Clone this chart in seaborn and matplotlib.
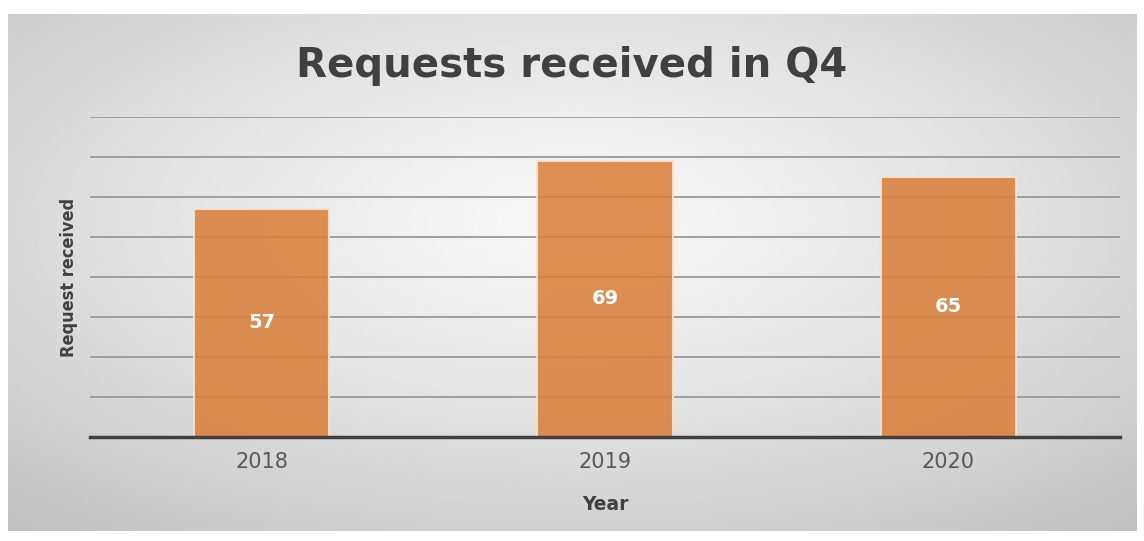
import numpy as np
import pandas as pd
import matplotlib
matplotlib.use("Agg")
import matplotlib.pyplot as plt
import seaborn as sns

years = ["2018", "2019", "2020"]
requests = [57, 69, 65]

df = pd.DataFrame({"Year": years, "Requests": requests})

sns.set_theme(style="white")
plt.rcParams["font.family"] = ["DejaVu Sans"]

W, H = 1144, 541
fig = plt.figure(figsize=(W / 100, H / 100), dpi=100, facecolor="white")

# chart panel with radial grey gradient
bg = fig.add_axes([8 / W, 1 - 531 / H, 1129 / W, 517 / H], zorder=0)
gx, gy = np.meshgrid(np.linspace(-1, 1, 400), np.linspace(-0.8, 1.2, 200))
r = np.sqrt(gx ** 2 + gy ** 2) / np.sqrt(2)
shade = 0.97 - 0.19 * r ** 1.3
bg.imshow(shade, cmap="gray", vmin=0, vmax=1, aspect="auto", extent=[0, 1, 0, 1])
bg.set_axis_off()

ax = fig.add_axes([90 / W, 1 - 437 / H, 1030 / W, 320 / H], zorder=1)
ax.patch.set_alpha(0)

sns.barplot(data=df, x="Year", y="Requests", ax=ax, color="#D9803D", alpha=0.88,
            width=0.395, edgecolor="#fbe3cf", linewidth=1.5, saturation=1, zorder=3)

ax.set_ylim(0, 80)
ax.set_yticks(np.arange(0, 81, 10))
ax.set_yticklabels([])
ax.tick_params(axis="y", length=0)
ax.tick_params(axis="x", length=0, pad=11, labelsize=15, labelcolor="#595959")
ax.yaxis.grid(True, color="#9a9a9a", linewidth=1.3, zorder=1)
ax.set_axisbelow(True)
for s in ["top", "right", "left"]:
    ax.spines[s].set_visible(False)
ax.spines["bottom"].set_color("#404040")
ax.spines["bottom"].set_linewidth(2.5)
ax.spines["bottom"].set_zorder(5)

for c in ax.containers:
    ax.bar_label(c, label_type="center", color="white", fontsize=14, fontweight="bold")

ax.set_xlabel("Year", fontsize=13.5, fontweight="bold", color="#404040", labelpad=16)
ax.set_ylabel("Request received", fontsize=13, fontweight="bold", color="#404040", labelpad=5,
              fontstretch="condensed")

fig.text(0.5, 1 - 77 / H, "Requests received in Q4", ha="center", va="baseline",
         fontsize=29, fontweight="bold", color="#404040")

fig.savefig("out.png", dpi=100, facecolor="white")
